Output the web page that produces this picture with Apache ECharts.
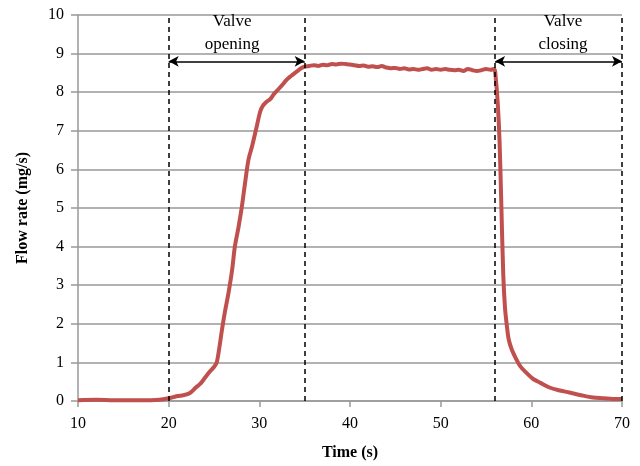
<!DOCTYPE html>
<html>
<head>
<meta charset="utf-8">
<script src="https://cdn.jsdelivr.net/npm/echarts@6/dist/echarts.min.js"></script>
<style>html,body{margin:0;padding:0;background:#fff}#c{width:640px;height:466px}</style>
</head>
<body>
<div id="c"></div>
<script>
const timeS = [10,12,14,16,18,19,20,20.5,21,21.6,22.3,23,23.5,24,24.5,25,25.3,25.6,25.85,26.2,26.6,27,27.3,27.7,28.05,28.4,28.8,29.2,29.7,30.1,30.4,30.8,31.2,31.6,32,32.5,33,33.5,34.1,34.6,35,35.5,36,36.5,37,37.5,38,38.5,39,39.5,40,40.5,41,41.5,42,42.5,43,43.5,44,44.5,45,45.5,46,46.5,47,47.5,48,48.5,49,49.5,50,50.5,51,51.5,52,52.5,53,53.5,54,54.5,55,55.5,55.9,56.1,56.3,56.5,56.7,56.9,57.1,57.3,57.5,57.83,58.3,58.75,59.5,60.2,61,62,63,64.2,65.5,66.8,68,69,70];
const flowRate = [0.02,0.03,0.02,0.02,0.02,0.03,0.07,0.1,0.13,0.15,0.2,0.35,0.45,0.6,0.75,0.88,1.0,1.4,1.8,2.3,2.8,3.4,4.0,4.5,5.0,5.6,6.25,6.6,7.1,7.5,7.65,7.75,7.82,7.95,8.05,8.18,8.32,8.42,8.53,8.62,8.66,8.68,8.7,8.68,8.71,8.7,8.73,8.72,8.74,8.73,8.72,8.7,8.68,8.69,8.66,8.67,8.65,8.68,8.64,8.62,8.63,8.6,8.62,8.59,8.6,8.58,8.6,8.62,8.58,8.6,8.58,8.6,8.58,8.57,8.58,8.55,8.6,8.57,8.55,8.57,8.6,8.58,8.6,8.3,7.7,6.7,5.0,3.3,2.4,1.95,1.6,1.34,1.1,0.91,0.72,0.57,0.47,0.35,0.28,0.22,0.15,0.09,0.07,0.05,0.05];
const phaseLines = [20, 35, 56, 70];
const arrowLevel = 8.8;
const phaseLabels = [
  {x: 27, y: 9.52, text: 'Valve\nopening', from: 20, to: 35},
  {x: 63.5, y: 9.52, text: 'Valve\nclosing', from: 56, to: 70}
];
const xTicks = {min: 10, max: 70, interval: 10};
const yTicks = {min: 0, max: 10, interval: 1};

const serif = 'Liberation Serif';
const chart = echarts.init(document.getElementById('c'));
const data = timeS.map((t, i) => [t, flowRate[i]]);

chart.setOption({
  animation: false,
  grid: {left: 78, right: 18, top: 15, bottom: 64},
  xAxis: {
    type: 'value', min: xTicks.min, max: xTicks.max, interval: xTicks.interval,
    name: 'Time (s)', nameLocation: 'middle', nameGap: 44,
    nameTextStyle: {fontFamily: serif, fontWeight: 'bold', fontSize: 16, color: '#000'},
    axisLine: {show: true, lineStyle: {color: '#999', width: 1.5}},
    axisTick: {show: true, length: 6, lineStyle: {color: '#999', width: 1.5}},
    axisLabel: {fontFamily: serif, fontSize: 16, color: '#000', margin: 15},
    splitLine: {show: false}
  },
  yAxis: {
    type: 'value', min: yTicks.min, max: yTicks.max, interval: yTicks.interval,
    name: 'Flow rate (mg/s)', nameLocation: 'middle', nameGap: 47, nameRotate: 90,
    nameTextStyle: {fontFamily: serif, fontWeight: 'bold', fontSize: 16, color: '#000'},
    axisLine: {show: true, lineStyle: {color: '#999', width: 1.5}},
    axisTick: {show: true, length: 7, lineStyle: {color: '#999', width: 1.5}},
    axisLabel: {fontFamily: serif, fontSize: 16, color: '#000', margin: 14},
    splitLine: {show: true, lineStyle: {color: '#999', width: 1.5}}
  },
  series: [
    {
      type: 'line', data: data, showSymbol: false, smooth: 0.3,
      lineStyle: {color: '#C0504D', width: 4},
      z: 3,
      markLine: {
        silent: true, symbol: ['none', 'none'], animation: false,
        label: {show: false},
        lineStyle: {color: '#000', type: [5, 4], width: 1.5},
        data: phaseLines.map(v => ({xAxis: v}))
      }
    },
    {
      type: 'line', data: [], z: 4,
      markLine: {
        silent: true, symbol: ['arrow', 'arrow'], symbolSize: [8, 10], animation: false,
        label: {show: false},
        lineStyle: {color: '#000', type: 'solid', width: 1.5},
        data: phaseLabels.map(p => [{coord: [p.from, arrowLevel]}, {coord: [p.to, arrowLevel]}])
      },
      markPoint: {
        silent: true, symbol: 'circle', symbolSize: 0, animation: false,
        itemStyle: {color: '#000'},
        label: {
          show: true, position: 'inside', formatter: p => p.name,
          fontFamily: serif, fontSize: 17, color: '#000', lineHeight: 23, align: 'center',
          verticalAlign: 'middle', textBorderWidth: 0
        },
        data: phaseLabels.map(p => ({coord: [p.x, p.y], name: p.text}))
      }
    }
  ]
});
</script>
</body>
</html>
